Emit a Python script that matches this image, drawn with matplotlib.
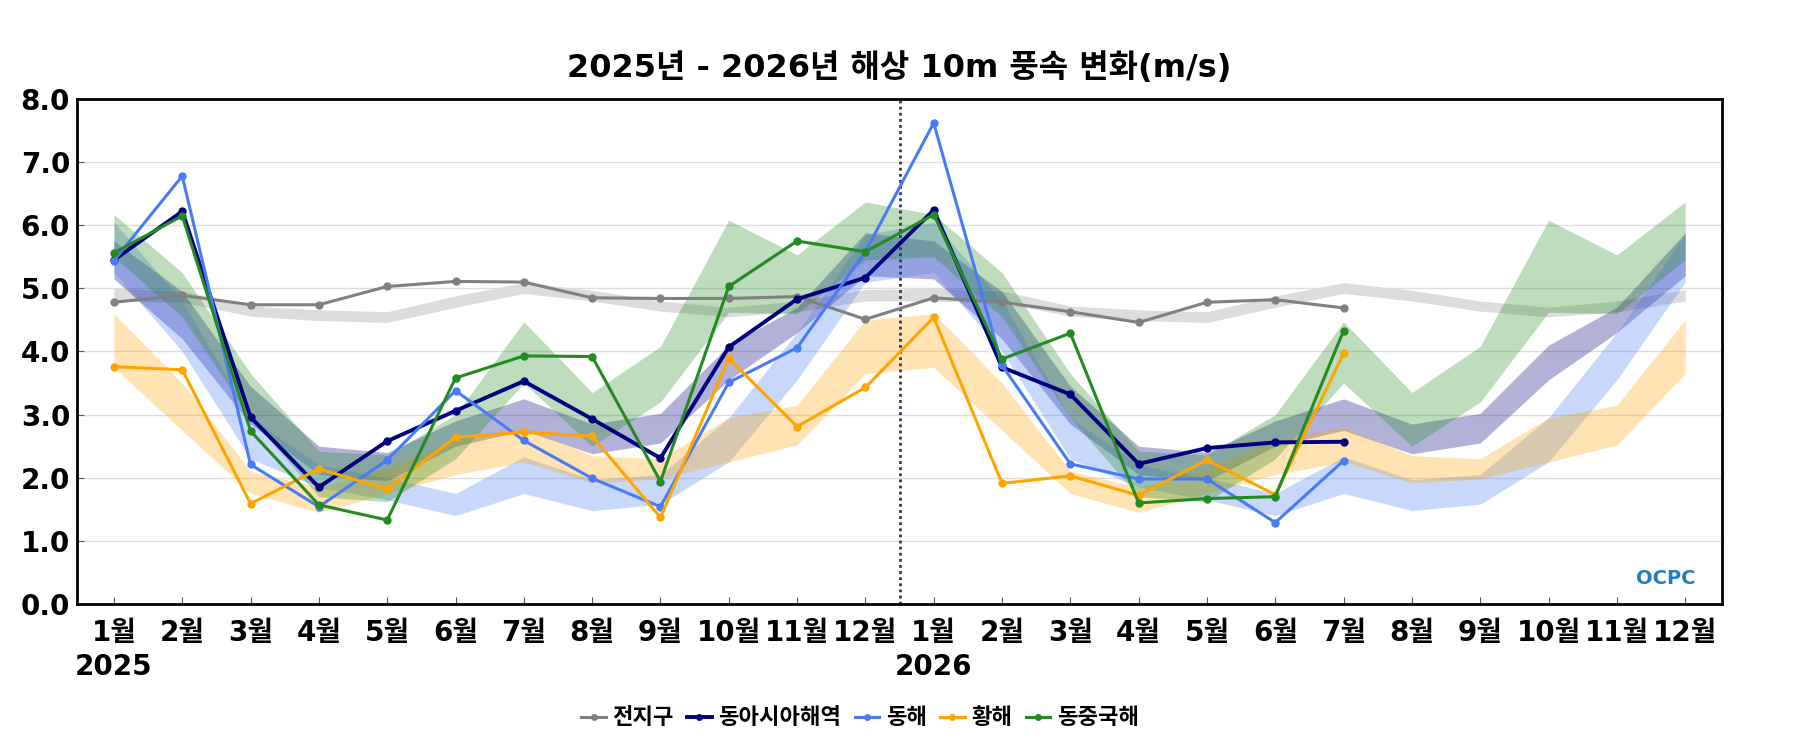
import matplotlib
matplotlib.use("Agg")
import matplotlib.pyplot as plt
import matplotlib.transforms as mtransforms
import numpy as np

plt.rcParams["font.family"] = ["DejaVu Sans", "Noto Sans CJK KR"]
plt.rcParams["font.weight"] = "bold"

OUT = "out.png"

MONTHS = ["1월", "2월", "3월", "4월", "5월", "6월", "7월", "8월", "9월", "10월", "11월", "12월"]
YEARS = ["2025", "2026"]

# observed monthly values, Jan 2025 .. Jul 2026
GLOBAL = [4.78, 4.89, 4.74, 4.74, 5.03, 5.11, 5.10, 4.85, 4.84, 4.84, 4.87, 4.51,
          4.85, 4.78, 4.63, 4.46, 4.78, 4.82, 4.69]
EAST_ASIA = [5.45, 6.22, 2.96, 1.85, 2.58, 3.06, 3.53, 2.93, 2.31, 4.07, 4.83, 5.17,
             6.24, 3.75, 3.32, 2.22, 2.47, 2.56, 2.57]
EAST_SEA = [5.44, 6.78, 2.21, 1.54, 2.28, 3.38, 2.59, 1.99, 1.54, 3.51, 4.06, 5.58,
            7.62, 3.78, 2.22, 1.98, 1.98, 1.29, 2.27]
YELLOW_SEA = [3.76, 3.71, 1.59, 2.14, 1.82, 2.64, 2.72, 2.66, 1.37, 3.89, 2.81, 3.43,
              4.54, 1.91, 2.03, 1.72, 2.28, 1.73, 3.97]
ECS = [5.56, 6.15, 2.74, 1.57, 1.33, 3.58, 3.93, 3.92, 1.94, 5.03, 5.75, 5.58,
       6.17, 3.88, 4.29, 1.60, 1.67, 1.70, 4.33]

# climatological ranges by calendar month (low, high)
GLOBAL_LO = [4.80, 4.78, 4.56, 4.49, 4.46, 4.70, 4.92, 4.80, 4.64, 4.55, 4.63, 4.80]
GLOBAL_HI = [5.00, 4.96, 4.72, 4.66, 4.63, 4.88, 5.09, 4.97, 4.80, 4.70, 4.80, 4.98]
EAST_ASIA_LO = [5.15, 4.20, 2.85, 2.05, 1.95, 2.50, 2.75, 2.38, 2.55, 3.55, 4.30, 5.20]
EAST_ASIA_HI = [5.75, 4.95, 3.45, 2.50, 2.40, 2.90, 3.25, 2.85, 3.02, 4.10, 4.70, 5.88]
EAST_SEA_LO = [5.25, 4.00, 2.30, 1.85, 1.65, 1.40, 1.75, 1.48, 1.58, 2.25, 3.55, 5.10]
EAST_SEA_HI = [6.05, 4.80, 2.95, 2.20, 2.00, 1.75, 2.33, 1.97, 2.05, 2.95, 4.30, 5.85]
YELLOW_SEA_LO = [3.75, 2.75, 1.75, 1.45, 1.75, 2.05, 2.25, 1.92, 1.98, 2.25, 2.52, 3.65]
YELLOW_SEA_HI = [4.60, 3.50, 2.10, 1.85, 2.15, 2.60, 2.80, 2.35, 2.30, 2.95, 3.15, 4.50]
ECS_LO = [5.50, 4.55, 2.95, 1.70, 1.62, 2.30, 3.50, 2.50, 3.20, 4.62, 4.60, 5.45]
ECS_HI = [6.17, 5.25, 3.65, 2.42, 2.36, 3.00, 4.47, 3.35, 4.08, 6.08, 5.53, 6.37]

SERIES = [
    ("전지구", GLOBAL, GLOBAL_LO, GLOBAL_HI, "#808080", "#dcdcdc", 1.0, 2.2),
    ("동아시아해역", EAST_ASIA, EAST_ASIA_LO, EAST_ASIA_HI, "#000080", "#000080", 0.3, 2.8),
    ("동해", EAST_SEA, EAST_SEA_LO, EAST_SEA_HI, "#4a7bf7", "#4a7bf7", 0.3, 2.2),
    ("황해", YELLOW_SEA, YELLOW_SEA_LO, YELLOW_SEA_HI, "#ffa500", "#ffa500", 0.3, 2.2),
    ("동중국해", ECS, ECS_LO, ECS_HI, "#228b22", "#228b22", 0.3, 2.2),
]


def main() -> None:
    fig = plt.figure(figsize=(18, 7.5), dpi=100)
    ax = fig.add_axes([0.0428, 0.1947, 0.9139, 0.6733])

    n_months = len(MONTHS) * len(YEARS)
    x_all = np.arange(n_months)

    for _, _, lo, hi, _, band_color, band_alpha, _ in SERIES:
        ax.fill_between(x_all, np.concatenate([lo, lo]), np.concatenate([hi, hi]),
                        color=band_color, alpha=band_alpha, lw=0, zorder=1)

    for label, values, _, _, color, _, _, lw in SERIES:
        x = np.arange(len(values))
        ax.plot(x, values, color=color, lw=lw, marker="o", ms=5, label=label, zorder=3)

    ax.axvline(len(MONTHS) - 0.5, color="#2b3a55", lw=2, ls=(0, (1, 1.2)), zorder=2)

    ax.set_xlim(-0.54, n_months - 0.46)
    ax.set_ylim(0, 8)
    ax.set_yticks(np.arange(0, 9))
    ax.set_yticklabels([f"{v:.1f}" for v in range(9)])
    ax.set_xticks(x_all)
    ax.set_xticklabels(MONTHS * len(YEARS))
    ax.tick_params(axis="both", direction="in", labelsize=20, color="#555555", length=5)
    ax.tick_params(axis="x", pad=11)
    ax.tick_params(axis="y", pad=5)
    for lab in ax.get_xticklabels() + ax.get_yticklabels():
        lab.set_fontweight("bold")
    ax.grid(axis="y", color="#dddddd", lw=1, zorder=0)
    ax.set_axisbelow(True)
    for sp in ax.spines.values():
        sp.set_linewidth(2)
        sp.set_color("black")

    trans = mtransforms.blended_transform_factory(ax.transData, fig.transFigure)
    for i, year in enumerate(YEARS):
        ax.text(i * len(MONTHS), 1 - 667 / 750, year, transform=trans, ha="center", va="center",
                fontsize=20, fontweight="bold")

    ax.set_title("2025년 - 2026년 해상 10m 풍속 변화(m/s)", fontsize=23, fontweight="bold", pad=16)

    ax.text(0.966, 0.051, "OCPC", transform=ax.transAxes, ha="center", va="center",
            fontsize=14, fontweight="bold", color="#1f7fc0")

    fig.legend(loc="center", bbox_to_anchor=(860 / 1800, 1 - 718 / 750), ncol=5, frameon=False,
               prop={"size": 16, "weight": "bold"}, handlelength=1.1, handletextpad=0.3,
               columnspacing=0.6, markerscale=0.8)

    fig.savefig(OUT, dpi=100)


if __name__ == "__main__":
    main()
